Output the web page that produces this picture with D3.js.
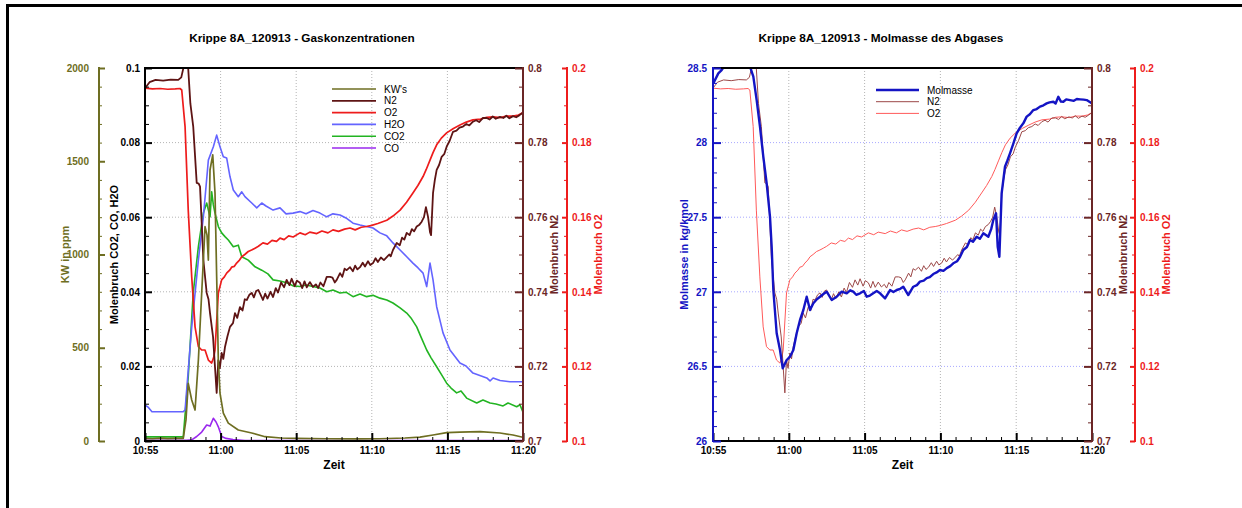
<!DOCTYPE html>
<html>
<head>
<meta charset="utf-8">
<script src="https://cdnjs.cloudflare.com/ajax/libs/d3/7.8.5/d3.min.js"></script>
<style>
  body { margin: 0; background: #fff; }
  svg { display: block; font-family: "Liberation Sans", Arial, sans-serif; }
</style>
</head>
<body>
<script>
// ---- Measurement data: [minutes after 10:55, value] ----
// Kohlenwasserstoffe (ppm)
const kwSeries = [[0,14],[0.5,12],[1,15],[1.5,13],[2,14],[2.53,14],[2.71,113],[2.86,309],[3.09,220],[3.31,166],[3.53,434],[3.75,794],[3.97,1149],[4.10,1105],[4.19,970],[4.30,1453],[4.48,1534],[4.63,1330],[4.74,881],[4.85,434],[4.96,257],[5.18,150],[5.51,96],[6.17,59],[7.06,43],[7.94,23],[9,16],[10,14],[12,12],[14,11],[15.5,12],[17.2,16],[18.19,21],[19.05,32],[19.95,45],[20.83,48],[22.16,50],[23.48,43],[24.34,32],[24.98,20]];

// Molenbruch N2
const n2Series = [[0,0.7946],[0.3,0.7962],[0.7,0.7968],[1.2,0.7966],[1.7,0.7969],[2.2,0.7968],[2.4,0.7975],[2.55,0.8002],[2.7,0.8060],[2.85,0.8004],[3.0,0.7905],[3.19,0.7843],[3.42,0.7692],[3.55,0.7690],[3.64,0.7682],[3.86,0.7485],[4.08,0.7397],[4.2,0.7380],[4.30,0.7343],[4.5,0.7279],[4.63,0.7198],[4.74,0.7129],[4.85,0.7217],[4.95,0.7195],[5.07,0.7236],[5.18,0.7220],[5.29,0.7252],[5.45,0.7280],[5.62,0.7306],[5.82,0.7316],[5.95,0.7343],[6.1,0.7330],[6.28,0.7359],[6.45,0.7350],[6.6,0.7380],[6.73,0.7378],[6.9,0.7392],[7.06,0.7397],[7.2,0.7385],[7.35,0.7402],[7.49,0.7405],[7.65,0.7392],[7.80,0.7378],[7.95,0.7395],[8.1,0.7382],[8.3,0.7400],[8.47,0.7386],[8.65,0.7410],[8.8,0.7398],[9.0,0.7425],[9.2,0.7412],[9.37,0.7432],[9.55,0.7418],[9.7,0.7435],[9.9,0.7415],[10.05,0.7430],[10.25,0.7424],[10.4,0.7410],[10.55,0.7428],[10.7,0.7412],[10.9,0.7426],[11.11,0.7413],[11.3,0.7420],[11.45,0.7410],[11.6,0.7425],[11.8,0.7415],[12.02,0.7440],[12.24,0.7440],[12.4,0.7438],[12.55,0.7425],[12.68,0.7432],[12.9,0.7450],[13.05,0.7440],[13.2,0.7462],[13.34,0.7458],[13.56,0.7466],[13.75,0.7455],[13.9,0.7470],[14.05,0.7460],[14.22,0.7466],[14.4,0.7478],[14.55,0.7468],[14.75,0.7482],[14.9,0.7472],[15.08,0.7477],[15.25,0.7490],[15.4,0.7480],[15.6,0.7492],[15.8,0.7485],[15.99,0.7493],[16.15,0.7500],[16.25,0.7495],[16.4,0.7512],[16.65,0.7531],[16.85,0.7525],[17.0,0.7545],[17.15,0.7540],[17.31,0.7558],[17.5,0.7552],[17.65,0.7568],[17.8,0.7562],[17.97,0.7575],[18.15,0.7580],[18.3,0.7588],[18.45,0.7600],[18.58,0.7627],[18.72,0.7601],[18.85,0.7560],[18.92,0.7552],[19.05,0.7665],[19.17,0.7700],[19.29,0.7727],[19.45,0.7740],[19.62,0.7762],[19.8,0.7770],[19.95,0.7789],[20.15,0.7805],[20.37,0.7829],[20.6,0.7832],[20.8,0.7840],[21.03,0.7843],[21.25,0.7850],[21.45,0.7846],[21.69,0.7856],[21.9,0.7860],[22.1,0.7855],[22.35,0.7866],[22.6,0.7866],[22.8,0.7862],[23.0,0.7870],[23.2,0.7864],[23.48,0.7869],[23.7,0.7866],[23.9,0.7872],[24.1,0.7865],[24.34,0.7871],[24.55,0.7868],[24.75,0.7873],[24.98,0.7880]];

// Molenbruch O2
const o2Series = [[0,0.1946],[0.5,0.1944],[1.0,0.1945],[1.5,0.1943],[2.0,0.1944],[2.31,0.1945],[2.43,0.1941],[2.65,0.1843],[2.86,0.1619],[3.09,0.1440],[3.31,0.1306],[3.53,0.1253],[3.75,0.1244],[3.97,0.1244],[4.19,0.1217],[4.41,0.1209],[4.55,0.1225],[4.63,0.1244],[4.85,0.1397],[5.07,0.1432],[5.25,0.1440],[5.40,0.1450],[5.6,0.1458],[5.73,0.1466],[5.9,0.1468],[6.06,0.1477],[6.25,0.1485],[6.40,0.1494],[6.6,0.1500],[6.83,0.1508],[7.05,0.1512],[7.28,0.1517],[7.5,0.1522],[7.8,0.1531],[8.1,0.1528],[8.4,0.1538],[8.7,0.1535],[8.93,0.1544],[9.2,0.1540],[9.5,0.1550],[9.8,0.1547],[10.25,0.1558],[10.6,0.1553],[10.9,0.1560],[11.36,0.1556],[11.7,0.1563],[12.1,0.1558],[12.43,0.1566],[12.8,0.1562],[13.2,0.1568],[13.56,0.1571],[13.9,0.1566],[14.3,0.1573],[14.66,0.1575],[15.0,0.1578],[15.4,0.1583],[15.99,0.1592],[16.4,0.1603],[16.87,0.1619],[17.3,0.1640],[17.72,0.1665],[18.05,0.1685],[18.39,0.1709],[18.6,0.1728],[18.85,0.1753],[19.05,0.1773],[19.29,0.1794],[19.6,0.1812],[19.95,0.1826],[20.4,0.1838],[20.83,0.1847],[21.25,0.1855],[21.69,0.1861],[22.2,0.1863],[22.6,0.1868],[23.02,0.1869],[23.5,0.1867],[23.9,0.1871],[24.34,0.1871],[24.7,0.1874],[24.98,0.1880]];

// Molenbruch H2O
const h2oSeries = [[0,0.00965],[0.2,0.0091],[0.46,0.00786],[1.5,0.00786],[2.53,0.00786],[2.65,0.0083],[3.09,0.0306],[3.53,0.0485],[3.86,0.0601],[4.19,0.0753],[4.52,0.0789],[4.74,0.0820],[4.96,0.0789],[5.18,0.0762],[5.40,0.0759],[5.62,0.0709],[5.84,0.0673],[6.17,0.0655],[6.40,0.0668],[6.61,0.0655],[7.06,0.0638],[7.39,0.0625],[7.72,0.0638],[8.00,0.0630],[8.47,0.0619],[8.93,0.0625],[9.33,0.0609],[9.79,0.0611],[10.25,0.0615],[10.65,0.0609],[11.11,0.0618],[11.57,0.0611],[12.02,0.0601],[12.43,0.0609],[12.90,0.0606],[13.29,0.0598],[13.76,0.0584],[14.22,0.0579],[14.66,0.0575],[15.08,0.0571],[15.54,0.0558],[15.99,0.0550],[16.40,0.0531],[16.87,0.0512],[17.31,0.0494],[17.72,0.0477],[18.06,0.0464],[18.39,0.0450],[18.63,0.0414],[18.85,0.0477],[19.05,0.0432],[19.29,0.0360],[19.71,0.0290],[20.17,0.0244],[20.83,0.0209],[21.23,0.0201],[21.69,0.0182],[22.60,0.0169],[22.82,0.0161],[23.02,0.0169],[23.48,0.0162],[24.14,0.0159],[24.98,0.0159]];

// Molenbruch CO2
const co2Series = [[0,0.0011],[1.5,0.0011],[2.53,0.0011],[2.86,0.0172],[3.19,0.0397],[3.53,0.0521],[3.86,0.0611],[4.08,0.0638],[4.30,0.0601],[4.41,0.0668],[4.52,0.0633],[4.63,0.0611],[4.85,0.0575],[5.07,0.0558],[5.29,0.0548],[5.51,0.0539],[5.84,0.0521],[6.17,0.0525],[6.40,0.0494],[6.83,0.0485],[7.28,0.0467],[7.72,0.0458],[8.13,0.0448],[8.47,0.0432],[8.93,0.0429],[9.37,0.0424],[9.79,0.0416],[10.25,0.0414],[10.65,0.0418],[11.11,0.0414],[11.57,0.0410],[12.02,0.0400],[12.43,0.0405],[12.90,0.0397],[13.29,0.0399],[13.76,0.0387],[14.22,0.0394],[14.66,0.0387],[15.08,0.0391],[15.54,0.0383],[15.99,0.0378],[16.40,0.0370],[16.87,0.0357],[17.31,0.0343],[17.59,0.0330],[17.97,0.0306],[18.25,0.0279],[18.63,0.0244],[18.92,0.0223],[19.29,0.0199],[19.58,0.0180],[19.95,0.0155],[20.24,0.0142],[20.61,0.0129],[20.90,0.0134],[21.27,0.0115],[21.94,0.0102],[22.35,0.0110],[22.82,0.0102],[23.21,0.0099],[23.68,0.0094],[24.01,0.0102],[24.58,0.0092],[24.80,0.0097],[24.98,0.0079]];

// Molenbruch CO
const coSeries = [[0,0.0002],[2.76,0.0002],[3.09,0.0003],[3.42,0.0012],[3.75,0.0024],[4.08,0.0043],[4.30,0.0040],[4.52,0.0061],[4.70,0.0051],[4.85,0.0038],[5.07,0.0012],[5.36,0.0007],[5.82,0.0004],[6.61,0.0001],[25,0.0001]];

// Molmasse des Abgases (kg/kmol)
const molSeries = [[0.02,28.397],[0.35,28.464],[0.57,28.486],[0.73,28.51],[1.5,28.51],[2.44,28.51],[2.66,28.442],[2.88,28.285],[3.10,28.106],[3.32,27.905],[3.54,27.727],[3.76,27.503],[3.87,27.302],[3.98,27.012],[4.20,26.722],[4.42,26.610],[4.60,26.487],[4.86,26.543],[5.08,26.565],[5.30,26.610],[5.52,26.722],[5.74,26.811],[5.96,26.878],[6.18,26.967],[6.40,26.878],[6.62,26.923],[6.85,26.950],[7.06,26.967],[7.28,26.985],[7.50,27.001],[7.83,26.945],[8.16,26.967],[8.49,27.001],[8.82,26.990],[9.05,27.010],[9.25,27.001],[9.45,26.980],[9.70,26.990],[9.95,27.005],[10.14,26.967],[10.35,26.975],[10.57,26.990],[10.8,27.005],[11.02,26.990],[11.35,26.956],[11.68,27.012],[11.9,26.998],[12.12,27.012],[12.35,27.020],[12.55,27.034],[12.88,26.978],[13.21,27.034],[13.45,27.045],[13.65,27.068],[13.9,27.075],[14.10,27.092],[14.3,27.098],[14.53,27.119],[14.75,27.130],[14.97,27.146],[15.2,27.140],[15.42,27.159],[15.65,27.172],[15.85,27.191],[16.1,27.205],[16.29,27.233],[16.51,27.280],[16.75,27.300],[16.95,27.347],[17.15,27.335],[17.39,27.369],[17.6,27.355],[17.83,27.392],[18.0,27.380],[18.16,27.369],[18.35,27.420],[18.49,27.481],[18.67,27.526],[18.78,27.302],[18.89,27.235],[19.04,27.660],[19.26,27.838],[19.42,27.880],[19.59,27.928],[19.8,27.990],[20.03,28.062],[20.25,28.100],[20.47,28.129],[20.69,28.174],[20.9,28.190],[21.13,28.218],[21.35,28.225],[21.57,28.241],[21.8,28.250],[22.01,28.263],[22.2,28.270],[22.45,28.274],[22.6,28.262],[22.78,28.307],[22.95,28.275],[23.11,28.274],[23.3,28.290],[23.55,28.285],[23.8,28.280],[24.0,28.292],[24.21,28.290],[24.45,28.288],[24.65,28.285],[24.98,28.263]];

// ---- Axis ticks ----
const timeMajor = [0, 5, 10, 15, 20, 25];           // minutes after 10:55
const timeMinor = [1,2,3,4,6,7,8,9,11,12,13,14,16,17,18,19,21,22,23,24];
const kwTicks = [0, 500, 1000, 1500, 2000];
const fracTicks = [0, 0.02, 0.04, 0.06, 0.08, 0.1];
const n2Ticks = [0.7, 0.72, 0.74, 0.76, 0.78, 0.8];
const o2Ticks = [0.1, 0.12, 0.14, 0.16, 0.18, 0.2];
const molTicks = [26, 26.5, 27, 27.5, 28, 28.5];

// ---- Setup ----
const W = 1242, H = 508;
const TOP = 68, BOT = 441;
const FONT = "'Liberation Sans', Arial, sans-serif";
const svg = d3.select("body").append("svg").attr("width", W).attr("height", H);

const base = new Date(2013, 8, 12, 10, 55, 0);
const at = m => new Date(base.getTime() + m * 60000);

// page frame (top and left edge)
svg.append("rect").attr("x", 6).attr("y", 4).attr("width", W).attr("height", 3).attr("fill", "#000");
svg.append("rect").attr("x", 6).attr("y", 4).attr("width", 3).attr("height", H).attr("fill", "#000");

// subdivide a list of major ticks into minor tick positions
function minorOf(ticks, n) {
  const out = [];
  for (let i = 0; i < ticks.length - 1; i++) {
    const a = ticks[i], b = ticks[i + 1];
    for (let k = 1; k < n; k++) out.push(a + (b - a) * k / n);
  }
  return out;
}

// vertical axis: side "left" puts labels left and ticks pointing right
function yAxis(g, scale, xPos, o) {
  const mk = o.side === "left" ? d3.axisLeft : d3.axisRight;
  const gm = g.append("g").attr("transform", `translate(${xPos},0)`)
    .call(mk(scale).tickValues(o.minor).tickSize(-o.minLen).tickFormat(""));
  gm.select(".domain").remove();
  gm.selectAll("line").attr("stroke", o.color).attr("stroke-width", 1);

  const gM = g.append("g").attr("transform", `translate(${xPos},0)`)
    .call(mk(scale).tickValues(o.major).tickSizeInner(-o.majLen).tickSizeOuter(0)
      .tickPadding(o.pad).tickFormat(o.fmt));
  gM.select(".domain").remove();
  gM.selectAll("line").attr("stroke", o.color).attr("stroke-width", o.majW || 2);
  gM.selectAll("text").attr("fill", o.color)
    .style("font-family", FONT).style("font-size", "10px").style("font-weight", "bold");

  const r = scale.range();
  g.append("line").attr("x1", xPos).attr("x2", xPos).attr("y1", r[0] + 1).attr("y2", r[1] - 1)
    .attr("stroke", o.color).attr("stroke-width", o.lineW || 2);

  g.append("text")
    .attr("transform", `translate(${o.titleX},${(TOP + BOT) / 2}) rotate(-90)`)
    .attr("text-anchor", "middle").attr("dy", "0.35em")
    .attr("fill", o.color).style("font-family", FONT).style("font-size", "11px").style("font-weight", "bold")
    .text(o.title);
}

function panel(p) {
  const g = svg.append("g");
  const x = d3.scaleTime().domain([at(0), at(25)]).range([p.x0, p.x1]);

  // grid
  g.append("g").selectAll("line").data(timeMajor.slice(1, -1)).join("line")
    .attr("x1", d => x(at(d))).attr("x2", d => x(at(d)))
    .attr("y1", TOP).attr("y2", BOT)
    .attr("stroke", "#b4b4b4").attr("stroke-width", 1).attr("stroke-dasharray", "1,2");
  g.append("g").selectAll("line").data(p.gridTicks.slice(1, -1)).join("line")
    .attr("x1", p.x0).attr("x2", p.x1)
    .attr("y1", d => p.gridScale(d)).attr("y2", d => p.gridScale(d))
    .attr("stroke", p.gridColor).attr("stroke-width", 1).attr("stroke-dasharray", "1,2");

  // series
  const clipId = "clip" + p.id;
  svg.append("clipPath").attr("id", clipId).append("rect")
    .attr("x", p.x0).attr("y", TOP).attr("width", p.x1 - p.x0).attr("height", BOT - TOP);
  const gl = g.append("g").attr("clip-path", `url(#${clipId})`);
  p.series.forEach(s => {
    const line = d3.line().x(d => x(at(d[0]))).y(d => s.scale(d[1]));
    gl.append("path").datum(s.data).attr("d", line)
      .attr("fill", "none").attr("stroke", s.color).attr("stroke-width", s.width)
      .attr("stroke-linejoin", "round");
  });

  // top frame line
  g.append("line").attr("x1", p.x0).attr("x2", p.x1).attr("y1", TOP).attr("y2", TOP)
    .attr("stroke", "#000").attr("stroke-width", 2);

  // time axis
  const gx1 = g.append("g").attr("transform", `translate(0,${BOT})`)
    .call(d3.axisBottom(x).tickValues(timeMinor.map(at)).tickSize(-4).tickFormat(""));
  gx1.select(".domain").remove();
  gx1.selectAll("line").attr("stroke", "#000").attr("stroke-width", 1);
  const gx2 = g.append("g").attr("transform", `translate(0,${BOT})`)
    .call(d3.axisBottom(x).tickValues(timeMajor.map(at)).tickSizeInner(-8).tickSizeOuter(0)
      .tickPadding(6).tickFormat(d3.timeFormat("%H:%M")));
  gx2.select(".domain").remove();
  gx2.selectAll("line").attr("stroke", "#000").attr("stroke-width", 2);
  gx2.selectAll("text").attr("fill", "#000")
    .style("font-family", FONT).style("font-size", "10px").style("font-weight", "bold");
  g.append("line").attr("x1", p.x0).attr("x2", p.x1).attr("y1", BOT).attr("y2", BOT)
    .attr("stroke", "#000").attr("stroke-width", 2);
  g.append("text").attr("x", (p.x0 + p.x1) / 2).attr("y", 469).attr("text-anchor", "middle")
    .style("font-family", FONT).style("font-size", "12px").style("font-weight", "bold").text("Zeit");

  // axes
  p.axes.forEach(a => yAxis(g, a.scale, a.x, a));

  // title
  g.append("text").attr("x", p.titleX).attr("y", 42).attr("text-anchor", "middle")
    .style("font-family", FONT).style("font-size", "11.8px").style("font-weight", "bold").text(p.title);

  // legend
  p.legend.forEach((s, i) => {
    const y = p.legY + i * p.legStep;
    g.append("line").attr("x1", p.legX).attr("x2", p.legX + p.legLen).attr("y1", y).attr("y2", y)
      .attr("stroke", s.color).attr("stroke-width", s.legW || s.width);
    g.append("text").attr("x", p.legX + p.legLen + 8).attr("y", y).attr("dy", "0.35em")
      .style("font-family", FONT).style("font-size", "10px").text(s.name);
  });
}

const fmt = d3.format("~g");

// ---------- left panel: gas concentrations ----------
{
  const yFrac = d3.scaleLinear().domain([0, 0.1]).range([BOT, TOP]);
  const yKW = d3.scaleLinear().domain([0, 2000]).range([BOT, TOP]);
  const yN2 = d3.scaleLinear().domain([0.7, 0.8]).range([BOT, TOP]);
  const yO2 = d3.scaleLinear().domain([0.1, 0.2]).range([BOT, TOP]);

  const KW = { name: "KW's", data: kwSeries, scale: yKW, color: "#6e6e22", width: 1.7 };
  const N2 = { name: "N2", data: n2Series, scale: yN2, color: "#5e1414", width: 1.8 };
  const O2 = { name: "O2", data: o2Series, scale: yO2, color: "#ee1c1c", width: 1.7 };
  const H2O = { name: "H2O", data: h2oSeries, scale: yFrac, color: "#6464ff", width: 1.6 };
  const CO2 = { name: "CO2", data: co2Series, scale: yFrac, color: "#22b422", width: 1.6 };
  const CO = { name: "CO", data: coSeries, scale: yFrac, color: "#9a28ee", width: 1.6 };

  panel({
    id: "L", x0: 145, x1: 523,
    title: "Krippe 8A_120913 - Gaskonzentrationen", titleX: 302,
    gridScale: yFrac, gridTicks: fracTicks, gridColor: "#b4b4b4",
    series: [CO, CO2, H2O, O2, N2, KW],
    legend: [KW, N2, O2, H2O, CO2, CO],
    legX: 332, legLen: 44, legY: 89, legStep: 11.8,
    axes: [
      { scale: yKW, x: 99, side: "left", color: "#6e6e22", major: kwTicks, minor: minorOf(kwTicks, 5),
        majLen: 6, minLen: 3, pad: 10, fmt: fmt, titleX: 65, title: "KW in ppm" },
      { scale: yFrac, x: 145, side: "left", color: "#000", major: fracTicks, minor: minorOf(fracTicks, 4),
        majLen: 7, minLen: 4, pad: 5, fmt: fmt, titleX: 114, title: "Molenbruch CO2, CO, H2O" },
      { scale: yN2, x: 523, side: "right", color: "#6b2626", major: n2Ticks, minor: minorOf(n2Ticks, 4),
        majLen: 8, minLen: 4, pad: 5, fmt: fmt, titleX: 554, title: "Molenbruch N2" },
      { scale: yO2, x: 567, side: "right", color: "#ee1c1c", major: o2Ticks, minor: minorOf(o2Ticks, 4),
        majLen: 5, minLen: 3, pad: 5, fmt: fmt, titleX: 598, title: "Molenbruch O2" }
    ]
  });
}

// ---------- right panel: molar mass ----------
{
  const yMol = d3.scaleLinear().domain([26, 28.5]).range([BOT, TOP]);
  const yN2 = d3.scaleLinear().domain([0.7, 0.8]).range([BOT, TOP]);
  const yO2 = d3.scaleLinear().domain([0.1, 0.2]).range([BOT, TOP]);

  const MOL = { name: "Molmasse", data: molSeries, scale: yMol, color: "#1414c4", width: 2.4 };
  const N2 = { name: "N2", data: n2Series, scale: yN2, color: "#9c4848", width: 1 };
  const O2 = { name: "O2", data: o2Series, scale: yO2, color: "#ff5a5a", width: 1 };

  panel({
    id: "R", x0: 713, x1: 1092,
    title: "Krippe 8A_120913 - Molmasse des Abgases", titleX: 881,
    gridScale: yMol, gridTicks: molTicks, gridColor: "#a8a8ff",
    series: [O2, N2, MOL],
    legend: [MOL, N2, O2],
    legX: 876, legLen: 43, legY: 90, legStep: 11.7,
    axes: [
      { scale: yMol, x: 713, side: "left", color: "#1414c4", major: molTicks, minor: minorOf(molTicks, 5),
        majLen: 8, minLen: 4, pad: 6, fmt: fmt, titleX: 684, title: "Molmasse in kg/kmol" },
      { scale: yN2, x: 1092, side: "right", color: "#6b2626", major: n2Ticks, minor: minorOf(n2Ticks, 4),
        majLen: 8, minLen: 4, pad: 5, fmt: fmt, titleX: 1123, title: "Molenbruch N2" },
      { scale: yO2, x: 1135, side: "right", color: "#ee1c1c", major: o2Ticks, minor: minorOf(o2Ticks, 4),
        majLen: 5, minLen: 3, pad: 5, fmt: fmt, titleX: 1166, title: "Molenbruch O2" }
    ]
  });
}
</script>
</body>
</html>
